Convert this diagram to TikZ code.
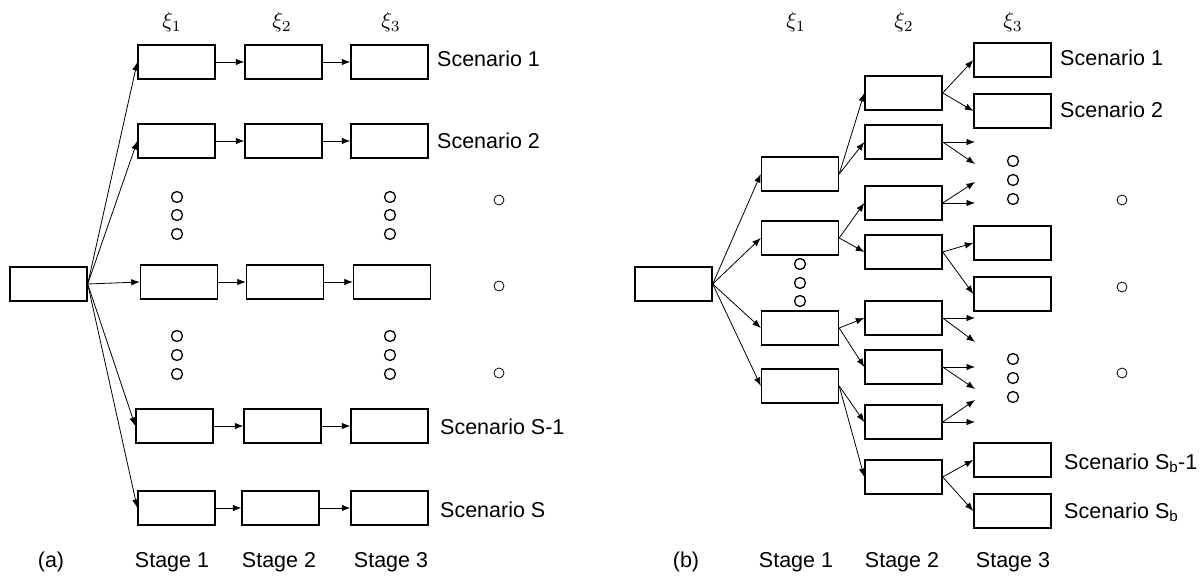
\documentclass[tikz,border=0pt]{standalone}
\usepackage{fontspec}
\setmainfont{Liberation Sans}
\usetikzlibrary{arrows.meta}
\begin{document}
\begin{tikzpicture}[x=1pt,y=-1pt,
  box/.style={draw,line width=1.4pt,minimum width=77pt,minimum height=34pt,inner sep=0pt},
  arr/.style={-{Latex[length=8.5pt,width=6.5pt]},line width=0.8pt},
  dot/.style={draw,circle,line width=1.3pt,minimum size=11pt,inner sep=0pt},
  sdot/.style={draw,circle,line width=0.8pt,minimum size=10pt,inner sep=0pt},
  lbl/.style={font=\fontsize{21.5}{25}\selectfont,inner sep=0pt},
  xil/.style={scale=2.2,inner sep=0pt,anchor=base}
]
\useasboundingbox (0,0) rectangle (1203,577);

% ---------------- panel (a) ----------------
\node[box] (ar) at (48.5,284) {};
\node[box] (a11) at (176.5,62) {};
\node[box] (a12) at (283.5,62) {};
\node[box] (a13) at (389.5,62) {};
\node[box] (a21) at (176.5,141) {};
\node[box] (a22) at (283.5,141) {};
\node[box] (a23) at (389.5,141) {};
\node[box] (a31) at (179,282) {};
\node[box] (a32) at (285,282) {};
\node[box] (a33) at (392,282) {};
\node[box] (a41) at (174.5,426) {};
\node[box] (a42) at (282.5,426) {};
\node[box] (a43) at (389.5,426) {};
\node[box] (a51) at (176.5,508) {};
\node[box] (a52) at (280.5,508) {};
\node[box] (a53) at (389.5,508) {};

\foreach \r in {1,...,5}{
  \draw[arr] (ar.east) -- (a\r1.west);
  \draw[arr] (a\r1.east) -- (a\r2.west);
  \draw[arr] (a\r2.east) -- (a\r3.west);
}

\node[xil] (axi1) at (172,28) {$\xi_1$};
\node[xil] (axi2) at (282,28) {$\xi_2$};
\node[xil] (axi3) at (391,28) {$\xi_3$};

\node[lbl,anchor=base west] (as1) at (437,67) {Scenario 1};
\node[lbl,anchor=base west] (as2) at (437,149) {Scenario 2};
\node[lbl,anchor=base west] (as3) at (440,435) {Scenario S-1};
\node[lbl,anchor=base west] (as4) at (440,517) {Scenario S};

\node[lbl,anchor=base] (alab) at (51,567) {(a)};
\node[lbl,anchor=base] (ast1) at (172,567) {Stage 1};
\node[lbl,anchor=base] (ast2) at (279,567) {Stage 2};
\node[lbl,anchor=base] (ast3) at (391,567) {Stage 3};

\node[dot] (ad1) at (177,197) {};
\node[dot] (ad2) at (177,215) {};
\node[dot] (ad3) at (177,234) {};
\node[dot] (ad4) at (390,197) {};
\node[dot] (ad5) at (390,215) {};
\node[dot] (ad6) at (390,234) {};
\node[dot] (ad7) at (177,336) {};
\node[dot] (ad8) at (177,355) {};
\node[dot] (ad9) at (177,374) {};
\node[dot] (ad10) at (390,336) {};
\node[dot] (ad11) at (390,355) {};
\node[dot] (ad12) at (390,374) {};
\node[sdot] (ae1) at (499,200) {};
\node[sdot] (ae2) at (499,286) {};
\node[sdot] (ae3) at (499,373) {};

% ---------------- panel (b) ----------------
\node[box] (br) at (673.5,284) {};
\node[box] (b11) at (800,174) {};
\node[box] (b12) at (800,238) {};
\node[box] (b13) at (800,328) {};
\node[box] (b14) at (800,386) {};

\node[box] (b21) at (903.5,93) {};
\node[box] (b22) at (903.5,142) {};
\node[box] (b23) at (903.5,203) {};
\node[box] (b24) at (903.5,252) {};
\node[box] (b25) at (903.5,318) {};
\node[box] (b26) at (903.5,367) {};
\node[box] (b27) at (903.5,422) {};
\node[box] (b28) at (903.5,477) {};

\node[box] (b31) at (1012.5,60) {};
\node[box] (b32) at (1012.5,111) {};
\node[box] (b33) at (1012.5,243) {};
\node[box] (b34) at (1012.5,294) {};
\node[box] (b35) at (1012.5,460) {};
\node[box] (b36) at (1012.5,511) {};

\coordinate (e1) at (975,142);
\coordinate (e2) at (975,164);
\coordinate (e3) at (975,182);
\coordinate (e4) at (975,203);
\coordinate (e5) at (975,318);
\coordinate (e6) at (975,342);
\coordinate (e7) at (975,367);
\coordinate (e8) at (975,389);
\coordinate (e9) at (975,400);
\coordinate (e10) at (975,422);

\foreach \i in {1,...,4}{\draw[arr] (br.east) -- (b1\i.west);}
\draw[arr] (b11.east) -- (b21.west);
\draw[arr] (b11.east) -- (b22.west);
\draw[arr] (b12.east) -- (b23.west);
\draw[arr] (b12.east) -- (b24.west);
\draw[arr] (b13.east) -- (b25.west);
\draw[arr] (b13.east) -- (b26.west);
\draw[arr] (b14.east) -- (b27.west);
\draw[arr] (b14.east) -- (b28.west);

\draw[arr] (b21.east) -- (b31.west);
\draw[arr] (b21.east) -- (b32.west);
\draw[arr] (b22.east) -- (e1);
\draw[arr] (b22.east) -- (e2);
\draw[arr] (b23.east) -- (e3);
\draw[arr] (b23.east) -- (e4);
\draw[arr] (b24.east) -- (b33.west);
\draw[arr] (b24.east) -- (b34.west);
\draw[arr] (b25.east) -- (e5);
\draw[arr] (b25.east) -- (e6);
\draw[arr] (b26.east) -- (e7);
\draw[arr] (b26.east) -- (e8);
\draw[arr] (b27.east) -- (e9);
\draw[arr] (b27.east) -- (e10);
\draw[arr] (b28.east) -- (b35.west);
\draw[arr] (b28.east) -- (b36.west);

\node[xil] (bxi1) at (796,28) {$\xi_1$};
\node[xil] (bxi2) at (904,28) {$\xi_2$};
\node[xil] (bxi3) at (1013,28) {$\xi_3$};

\node[lbl,anchor=base west] (bs1) at (1060,66) {Scenario 1};
\node[lbl,anchor=base west] (bs2) at (1060,118) {Scenario 2};
\node[lbl,anchor=base west] (bs3) at (1064,469) {Scenario S\textsubscript{b}-1};
\node[lbl,anchor=base west] (bs4) at (1064,518) {Scenario S\textsubscript{b}};

\node[lbl,anchor=base] (blab) at (686,567) {(b)};
\node[lbl,anchor=base] (bst1) at (796,567) {Stage 1};
\node[lbl,anchor=base] (bst2) at (902,567) {Stage 2};
\node[lbl,anchor=base] (bst3) at (1013,567) {Stage 3};

\node[dot] (bd1) at (800,264) {};
\node[dot] (bd2) at (800,283) {};
\node[dot] (bd3) at (800,301) {};
\node[dot] (bd4) at (1013,161) {};
\node[dot] (bd5) at (1013,180) {};
\node[dot] (bd6) at (1013,199) {};
\node[dot] (bd7) at (1013,359) {};
\node[dot] (bd8) at (1013,378) {};
\node[dot] (bd9) at (1013,397) {};
\node[sdot] (be1) at (1122,200) {};
\node[sdot] (be2) at (1122,287) {};
\node[sdot] (be3) at (1122,373) {};
\end{tikzpicture}
\end{document}
